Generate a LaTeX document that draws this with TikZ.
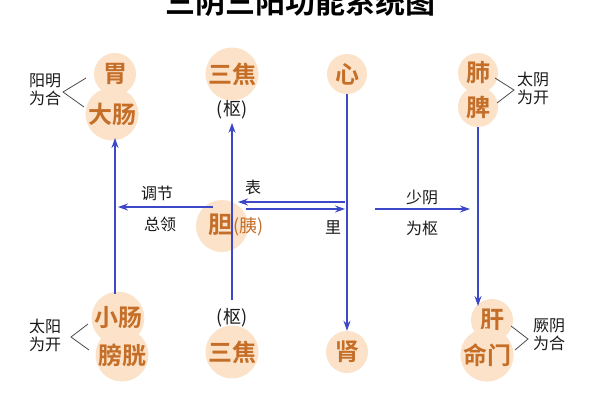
\documentclass[tikz,border=0pt]{standalone}
\usepackage{fontspec}
\newfontfamily\cjk{Noto Sans CJK SC}
\newfontfamily\cjkb{Noto Sans CJK SC Bold}
\usetikzlibrary{arrows.meta}
\definecolor{org}{RGB}{196,110,40}
\definecolor{peach}{RGB}{251,226,200}
\definecolor{arr}{RGB}{60,72,200}
\tikzset{x=1pt,y=-1pt,
 organ/.style={fill=peach,circle,inner sep=0pt,minimum size=46pt,text=org,font=\cjkb\fontsize{24}{24}\selectfont},
 small/.style={font=\cjk\fontsize{16}{18}\selectfont,align=center,text=black!90},
 arl/.style={draw=arr,line width=1.4pt,-{Stealth[length=10pt,width=7pt]}},
 br/.style={draw=black!70,line width=0.8pt}}
\begin{document}
\begin{tikzpicture}
\useasboundingbox (0,0) rectangle (600,400);
\fill[white] (0,0) rectangle (600,400);
\begin{scope}
\clip (0,0) rectangle (600,400);
\node[font=\cjkb\fontsize{30}{30}\selectfont] (title) at (300,2) {三阴三阳功能系统图};
\end{scope}
% top row
\node[organ,minimum size=42pt] (wei) at (115,74) {胃};
\node[organ,minimum size=48pt] (dc) at (112,114) {大肠};
\node[small] (ym) at (45,90) {阳明\\为合};
\draw[br] (86,78) -- (63,92) -- (84,107);
\node[organ] (sj1) at (232,74) {三焦};
\node[small,font=\cjk\fontsize{18}{18}\selectfont] (s1) at (232,110) {(枢)};
\node[organ,minimum size=40pt] (xin) at (347,74) {心};
\node[organ,minimum size=40pt] (fei) at (478,73) {肺};
\node[organ,minimum size=40pt] (pi) at (478,107) {脾};
\node[small] (ty) at (533,88) {太阴\\为开};
\draw[br] (495,78) -- (514,90) -- (497,103);
% bottom row
\node[organ,minimum size=48pt] (xc) at (118,318) {小肠};
\node[organ,minimum size=48pt] (pg) at (122,355) {膀胱};
\node[small] (tyang) at (45,335) {太阳\\为开};
\draw[br] (88,324) -- (71,337) -- (89,350);
\node[small,font=\cjk\fontsize{18}{18}\selectfont] (s2) at (232,318) {(枢)};
\node[organ] (sj2) at (232,352) {三焦};
\node[organ,minimum size=42pt] (shen) at (347,352) {肾};
\node[organ,minimum size=42pt] (gan) at (492,320) {肝};
\node[organ,minimum size=48pt] (mm) at (487,355) {命门};
\node[small] (jy) at (549,335) {厥阴\\为合};
\draw[br] (511,326) -- (528,339) -- (515,350);
% center
\node[fill=peach,circle,minimum size=52pt,inner sep=0pt] (dan) at (222,226) {};
\node[text=org,font=\cjkb\fontsize{24}{24}\selectfont,anchor=east,inner sep=0pt] (danT) at (233,225) {胆};
\node[text=org,font=\cjk\fontsize{18}{18}\selectfont,anchor=west,inner sep=0pt] (yi) at (233,227) {(胰)};
% vertical connectors
\coordinate (b1) at (115,294);
\coordinate (t1) at (115,138);
\draw[arl] (b1) -- (t1);
\coordinate (b2) at (232,300);
\draw[arl] (b2) -- (s1.south);
\draw[arl] (xin.south) -- (shen.north);
\coordinate (gtop) at (478,306);
\draw[arl] (pi.south) -- (gtop);
% horizontals
\coordinate (h1) at (213,207);
\coordinate (h2) at (118,207);
\draw[arl] (h1) -- (h2);
\coordinate (h3) at (345,202);
\coordinate (h4) at (238,202);
\draw[arl] (h3) -- (h4);
\coordinate (h5) at (246,209);
\coordinate (h6) at (345,209);
\draw[arl] (h5) -- (h6);
\coordinate (h7) at (375,209);
\coordinate (h8) at (470,209);
\draw[arl] (h7) -- (h8);
\node[small] (tj) at (157,193) {调节};
\node[small] (zl) at (160,224) {总领};
\node[small] (biao) at (253,187) {表};
\node[small] (li) at (333,228) {里};
\node[small] (sy) at (422,197) {少阴};
\node[small] (wq) at (422,228) {为枢};
\end{tikzpicture}
\end{document}
